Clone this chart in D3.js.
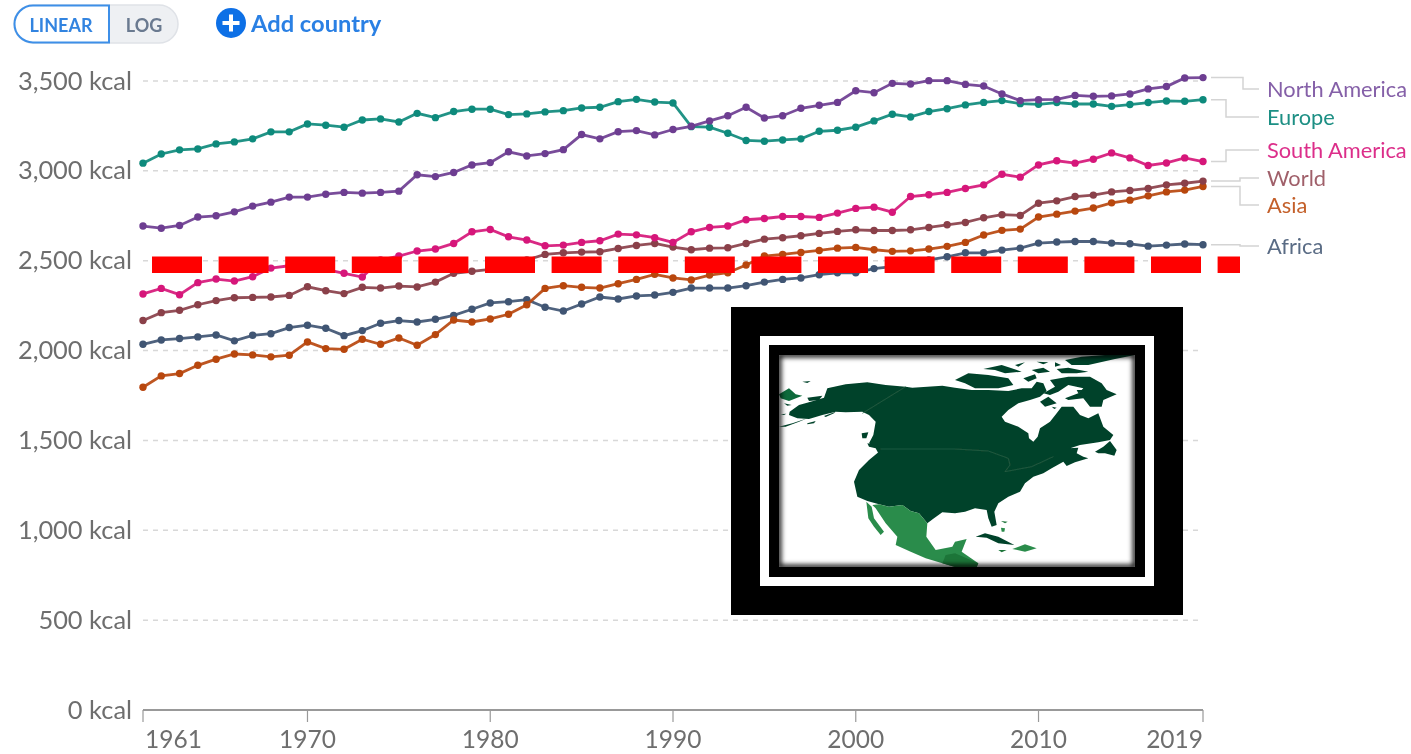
<!DOCTYPE html>
<html><head><meta charset="utf-8">
<script src="https://cdn.jsdelivr.net/npm/d3@7/dist/d3.min.js"></script>
<style>
html,body{margin:0;padding:0;background:#fff;overflow:hidden}
svg{display:block;font-family:Lato,"Open Sans",sans-serif}
</style></head><body>
<script>
const years = d3.range(1961, 2020);
const yTickValues = [0,500,1000,1500,2000,2500,3000,3500];
const xTickValues = [1961,1970,1980,1990,2000,2010,2019];

const northAmerica = [2693,2681,2696,2743,2750,2772,2804,2826,2854,2854,2870,2880,2876,2880,2887,2978,2968,2991,3033,3046,3106,3083,3096,3118,3202,3178,3218,3224,3200,3230,3248,3278,3307,3354,3294,3307,3348,3365,3381,3446,3435,3487,3483,3502,3502,3481,3472,3428,3391,3396,3398,3420,3415,3417,3428,3456,3469,3517,3519];
const europe = [3043,3094,3117,3122,3150,3161,3178,3217,3217,3261,3254,3243,3283,3289,3272,3320,3296,3330,3343,3343,3313,3317,3328,3335,3350,3354,3385,3398,3383,3378,3246,3243,3209,3169,3165,3172,3178,3220,3226,3243,3278,3315,3300,3330,3346,3367,3381,3391,3374,3370,3380,3372,3372,3359,3369,3380,3389,3387,3396];
const southAmerica = [2315,2346,2311,2378,2398,2387,2411,2459,2472,2472,2452,2430,2409,2504,2526,2554,2565,2596,2661,2674,2633,2615,2583,2587,2602,2611,2648,2644,2628,2602,2661,2685,2693,2728,2735,2746,2746,2741,2765,2791,2798,2770,2857,2867,2880,2902,2922,2981,2965,3033,3056,3043,3065,3100,3072,3030,3044,3072,3052];
const world = [2167,2211,2224,2255,2278,2294,2296,2298,2307,2355,2333,2317,2352,2348,2359,2354,2381,2430,2441,2452,2476,2504,2535,2544,2548,2550,2568,2585,2596,2576,2561,2570,2572,2596,2620,2628,2639,2652,2663,2672,2668,2668,2672,2685,2700,2713,2739,2756,2752,2820,2833,2857,2865,2883,2891,2902,2922,2931,2943];
const asia = [1796,1859,1872,1918,1952,1981,1976,1965,1974,2048,2011,2007,2063,2035,2070,2030,2089,2170,2159,2176,2202,2255,2346,2361,2352,2348,2372,2396,2424,2404,2393,2420,2433,2476,2526,2535,2546,2557,2570,2574,2561,2552,2555,2565,2580,2602,2643,2669,2676,2743,2759,2776,2793,2822,2837,2861,2883,2893,2913];
const africa = [2035,2059,2067,2076,2087,2054,2085,2094,2128,2141,2124,2083,2111,2152,2167,2159,2174,2196,2230,2265,2272,2283,2241,2220,2259,2298,2287,2304,2309,2324,2348,2348,2348,2361,2381,2396,2404,2422,2433,2433,2456,2467,2480,2504,2522,2544,2544,2559,2570,2598,2604,2607,2607,2598,2594,2581,2587,2593,2589];

const seriesNames = ["Africa","Asia","World","South America","Europe","North America"];
const seriesValues = [africa,asia,world,southAmerica,europe,northAmerica];
const seriesColors = ["#3f5573","#b8460f","#8a3f4a","#d6187a","#0f8a7c","#6d3e91"];
const labelColors = ["#5a6c85","#c4602b","#a0606a","#dc2f8a","#1d8f84","#8560a8"];
const labelY = [246,205,178,150,117,89];
const elbowX = [1240,1240,1240,1226,1226,1243];

const W = 1411, H = 754;
const svg = d3.select("body").append("svg").attr("width",W).attr("height",H);
const defs = svg.append("defs");
defs.append("filter").attr("id","soft").append("feGaussianBlur").attr("stdDeviation",2.5);
defs.append("filter").attr("id","px").append("feGaussianBlur").attr("stdDeviation",.5);
defs.append("clipPath").attr("id","inner").append("rect").attr("x",779).attr("y",355).attr("width",356).attr("height",212);

const x = d3.scaleLinear().domain([1961,2019]).range([143,1203]);
const y = d3.scaleLinear().domain([0,3500]).range([710,81]);
const chart = svg.append("g").attr("filter","url(#px)");

// grid + y labels
chart.append("g").selectAll("line").data(yTickValues.filter(d=>d>0)).join("line")
  .attr("x1",143).attr("x2",1203).attr("y1",d=>y(d)).attr("y2",d=>y(d))
  .attr("stroke","#d8d8d8").attr("stroke-width",1.5).attr("stroke-dasharray","5 5");
chart.append("g").selectAll("text").data(yTickValues).join("text")
  .attr("x",132).attr("y",d=>y(d)+8.5).attr("text-anchor","end")
  .attr("font-size",25.4).attr("fill","#6e6e6e")
  .text(d=>d3.format(",")(d)+" kcal");

// x axis
chart.append("line").attr("x1",143).attr("x2",1203).attr("y1",710).attr("y2",710).attr("stroke","#999").attr("stroke-width",1.8);
chart.append("g").selectAll("line").data(xTickValues).join("line")
  .attr("x1",d=>x(d)).attr("x2",d=>x(d)).attr("y1",710).attr("y2",722).attr("stroke","#999").attr("stroke-width",1.2);
chart.append("g").selectAll("text").data(xTickValues).join("text")
  .attr("x",d=>d===1961?x(d)+2:d===2019?x(d):x(d))
  .attr("y",748)
  .attr("text-anchor",d=>d===1961?"start":d===2019?"end":"middle")
  .attr("font-size",24.5).attr("fill","#6e6e6e")
  .text(d=>d);

// lines
const line = d3.line().x((d,i)=>x(years[i])).y(d=>y(d));
seriesNames.forEach((n,k)=>{
  const g = chart.append("g");
  g.append("path").attr("d",line(seriesValues[k])).attr("fill","none")
    .attr("stroke",seriesColors[k]).attr("stroke-width",2.8).attr("stroke-opacity",.92);
  g.selectAll("circle").data(seriesValues[k]).join("circle")
    .attr("cx",(d,i)=>x(years[i])).attr("cy",d=>y(d)).attr("r",3.7).attr("fill",seriesColors[k]);
  const yEnd = y(seriesValues[k][58]);
  chart.append("path").attr("d",`M1211,${yEnd}H${elbowX[k]}V${labelY[k]}H1259`)
    .attr("fill","none").attr("stroke","#d4d4d4").attr("stroke-width",1.5);
  chart.append("text").attr("x",1267).attr("y",labelY[k]+7.5).attr("font-size",21.8)
    .attr("fill",labelColors[k]).text(n);
});

// red dashed line
svg.append("line").attr("x1",152).attr("x2",1240).attr("y1",264.7).attr("y2",264.7)
  .attr("stroke","#ff0000").attr("stroke-width",16.5).attr("stroke-dasharray","50 16.6");

// buttons
const b = svg.append("g").attr("filter","url(#px)");
b.append("rect").attr("x",14).attr("y",5).attr("width",164).attr("height",38).attr("rx",19).attr("fill","#eef0f3").attr("stroke","#dfe2e7").attr("stroke-width",1.5);
b.append("path").attr("d","M109,5.5H33A18.5,18.5 0 0 0 33,42.5H109Z").attr("fill","#fff").attr("stroke","#3d8fe8").attr("stroke-width",2);
b.append("text").attr("x",61).attr("y",32).attr("text-anchor","middle").attr("font-size",18).attr("font-weight",700).attr("fill","#3384e0").text("LINEAR");
b.append("text").attr("x",144).attr("y",32).attr("text-anchor","middle").attr("font-size",18).attr("font-weight",700).attr("fill","#6b7a90").text("LOG");
b.append("circle").attr("cx",231).attr("cy",23).attr("r",15).attr("fill","#0f6fe6");
b.append("path").attr("d","M231,14.5V31.5M222.5,23H239.5").attr("stroke","#fff").attr("stroke-width",4);
b.append("text").attr("x",251).attr("y",32).attr("font-size",23.7).attr("font-weight",700).attr("fill","#2a80e4").text("Add country");

// inset picture of North America
const frame = [[731,307,452,308,"#000"],[760,336,394,250,"#fff"],[769,345,376,232,"#000"],[779,355,356,212,"#fff"]];
svg.append("g").selectAll("rect").data(frame).join("rect")
  .attr("x",d=>d[0]).attr("y",d=>d[1]).attr("width",d=>d[2]).attr("height",d=>d[3]).attr("fill",d=>d[4]);

const dark="#05422a", mid="#2c8c4c", deep="#1d7439", isle="#0b6a3a";
const R = 528; // offset of the eastern half of the map outline
const east = pts => pts.map(p=>[p[0]+R,p[1]]);
const mapShapes = [
 [dark,[[32,170],[60,150],[95,140],[135,128],[145,100],[200,88],[265,82],[320,90],[380,95],[400,98],[490,92],
   ...east([[0,98],[50,105],[100,105],[160,108],[200,100],[230,100],[245,80],[265,85],[275,108],[255,125],[225,135],[190,145],[160,165],[140,185],[150,200],[190,215],[220,235],[222,250],[235,260],[248,245],[255,220],[285,200],[305,175],[320,155],[355,155],[375,180],[400,190],[430,175],[445,215],[475,240],[465,255],[430,262],[375,270],[330,285],[300,300],[340,280],[370,278],[365,295],[385,305],[400,310],[360,322],[335,333],[325,320],[290,340],[265,355],[235,365],[210,385],[195,410],[160,425],[130,445],[118,470],[125,510],[110,515],[100,490],[95,465],[60,460],[30,470],[0,475]]),
   [490,472],[465,490],[445,505],[420,475],[395,468],[370,450],[330,455],[300,448],[265,438],[235,425],[225,380],[240,345],[270,315],[300,290],[295,280],[270,265],[283,240],[290,200],[270,180],[250,170],[200,172],[170,170],[130,180],[90,192],[55,190],[30,180]]],
 [dark,[[0,215],[40,205],[85,190],[60,200],[20,215]]],
 [dark,[[85,205],[110,198],[105,205],[85,208]]],
 [dark,[[135,183],[170,170],[165,175],[140,186]]],
 [isle,[[0,118],[30,100],[50,118],[70,122],[30,138],[5,130]]],
 [dark,[[15,145],[38,150],[25,152]]],
 [dark,[[5,178],[22,176],[15,180]]],
 [dark,[[70,80],[95,78],[85,84]]],
 [dark,[[85,128],[130,122],[120,135],[90,138]]],
 [dark,[[248,235],[268,232],[262,250],[250,250]]],
 [dark,[[265,265],[295,270],[305,285],[298,295],[290,280],[270,275]]],
 [dark,east([[0,75],[40,55],[100,60],[160,70],[175,90],[130,100],[60,100],[30,85]])],
 [dark,east([[85,42],[140,30],[170,40],[200,50],[150,55],[120,45]])],
 [dark,east([[180,30],[210,22],[190,35]])],
 [dark,east([[205,70],[240,58],[245,70],[220,80]])],
 [dark,east([[230,45],[265,38],[285,50],[250,55]])],
 [dark,east([[245,20],[280,22],[265,28]])],
 [dark,east([[300,22],[318,30],[300,35]])],
 [dark,east([[305,42],[340,38],[400,50],[365,55],[320,55]])],
 [dark,east([[330,15],[380,5],[450,0],[540,0],[480,12],[400,30],[350,30]])],
 [dark,east([[285,75],[340,65],[405,65],[440,85],[455,105],[485,118],[445,135],[440,155],[405,155],[385,130],[340,135],[330,130],[370,115],[385,100],[340,90],[310,110],[285,120],[265,115],[300,95]])],
 [dark,east([[255,140],[280,125],[305,145],[270,155]])],
 [dark,east([[290,155],[305,158],[298,162]])],
 [dark,east([[365,105],[385,105],[370,115]])],
 [dark,east([[420,290],[445,275],[465,258],[485,285],[478,302],[450,295],[430,295]])],
 [mid,[[280,450],[300,448],[330,455],[370,450],[395,468],[420,475],[445,505],[442,545],[470,585],[520,575],[528,560],[563,552],[548,590],[598,625],[593,636],[528,636],[490,625],[440,610],[395,590],[350,570],[355,545],[320,505],[290,460]]],
 [mid,[[262,440],[278,455],[285,490],[315,530],[305,540],[285,515],[268,490]]],
 [deep,[[500,600],[528,595],[598,625],[593,636],[528,636],[490,625]]],
 [dark,east([[62,545],[90,535],[130,545],[178,570],[130,565],[95,548]])],
 [mid,east([[172,582],[210,568],[245,580],[210,590]])],
 [deep,east([[130,585],[155,585],[140,592]])],
 [deep,east([[138,498],[158,500],[150,505]])],
 [mid,east([[138,518],[150,520],[148,530],[140,530]])]
];
const borderLines = [
 [[380,95],[250,175]],
 [[305,282],[528,282],[628,288],[688,310],[693,330],[678,350],[758,335],[823,305]]
];
const mx = d3.scaleLinear().domain([0,3]).range([779,780]);
const my = d3.scaleLinear().domain([0,3]).range([355,356]);
const poly = d3.line().x(d=>mx(d[0])).y(d=>my(d[1])).curve(d3.curveLinearClosed);
const open = d3.line().x(d=>mx(d[0])).y(d=>my(d[1]));
const mapG = svg.append("g").attr("clip-path","url(#inner)");
const land = mapG.append("g").attr("filter","url(#px)");
land.selectAll("path.land").data(mapShapes).join("path").attr("class","land")
  .attr("d",d=>poly(d[1])).attr("fill",d=>d[0]);
land.selectAll("path.border").data(borderLines).join("path").attr("class","border")
  .attr("d",d=>open(d)).attr("fill","none").attr("stroke","#2a6347").attr("stroke-width",.7);
mapG.append("rect").attr("x",779).attr("y",355).attr("width",356).attr("height",212)
  .attr("fill","none").attr("stroke","#000").attr("stroke-width",4.5).attr("filter","url(#soft)");
</script>
</body></html>
